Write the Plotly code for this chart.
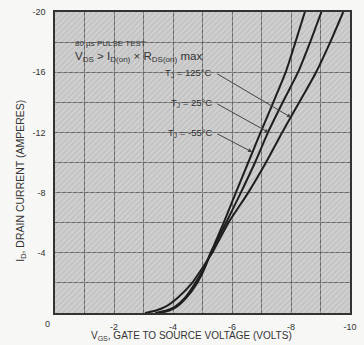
import plotly.graph_objects as go

# ---- data ----
id_levels = [0, -0.15, -0.4, -1.0, -2.0, -3.0, -4.0, -6.0, -8.0, -10.0, -12.0, -14.0, -16.0, -18.0, -20.0]
vgs_m55 = [-3.55, -3.85, -4.12, -4.45, -4.82, -5.08, -5.28, -5.72, -6.13, -6.55, -6.97, -7.40, -7.82, -8.15, -8.47]
vgs_25 = [-3.40, -3.75, -4.05, -4.40, -4.76, -5.05, -5.28, -5.80, -6.30, -6.78, -7.22, -7.72, -8.24, -8.65, -9.03]
vgs_125 = [-3.05, -3.40, -3.73, -4.15, -4.65, -5.00, -5.33, -5.88, -6.55, -7.15, -7.70, -8.28, -8.85, -9.33, -9.77]

curve_names = ["T<sub>J</sub> = -55\u00b0C", "T<sub>J</sub> = 25\u00b0C", "T<sub>J</sub> = 125\u00b0C"]

x_ticks = [-1, -2, -3, -4, -5, -6, -7, -8, -9, -10]
x_tick_text = ["", "-2", "", "-4", "", "-6", "", "-8", "", "-10"]
y_ticks = [-2, -4, -6, -8, -10, -12, -14, -16, -18, -20]
y_tick_text = ["", "-4", "", "-8", "", "-12", "", "-16", "", "-20"]

x_range = [0, -10]
y_range = [0, -20]

# label / arrow anchor points (data coords): label end, arrow tip
arrow_tail = [(-5.45, -11.96), (-5.45, -13.95), (-5.45, -15.95)]
arrow_tip = [(-6.68, -10.7), (-7.24, -12.0), (-8.0, -13.0)]

FONT = "Liberation Sans Narrow, Liberation Sans, Arial, sans-serif"
INK = "#333333"

fig = go.Figure()

# hatched background
fig.add_trace(go.Scatter(
    x=[x_range[0], x_range[1], x_range[1], x_range[0], x_range[0]],
    y=[y_range[0], y_range[0], y_range[1], y_range[1], y_range[0]],
    mode="lines", line=dict(width=0), fill="toself",
    fillcolor="rgba(0,0,0,0)",
    fillpattern=dict(shape="/", bgcolor="rgba(0,0,0,0)", fgcolor="rgba(238,238,238,0.8)",
                     size=4, solidity=0.35),
    hoverinfo="skip", showlegend=False))

for xs, nm in zip([vgs_m55, vgs_25, vgs_125], curve_names):
    fig.add_trace(go.Scatter(x=xs, y=id_levels, mode="lines", name=nm,
                             line=dict(color="#1e1e1e", width=2, shape="spline", smoothing=0.6),
                             showlegend=False))

annotations = []
for (tx, ty), (hx, hy), nm in zip(arrow_tail, arrow_tip, curve_names):
    annotations.append(dict(x=hx, y=hy, ax=tx, ay=ty, xref="x", yref="y", axref="x", ayref="y",
                            text="", showarrow=True, arrowhead=2, arrowsize=0.8, arrowwidth=1,
                            arrowcolor="#444444"))
    annotations.append(dict(x=tx + 0.05, y=ty, xref="x", yref="y", text=nm, showarrow=False,
                            xanchor="right", yanchor="middle",
                            font=dict(family=FONT, size=9.5, color=INK)))

annotations += [
    dict(x=0.06, y=0.895, xref="paper", yref="paper", text="80 \u00b5s PULSE TEST", showarrow=False,
         xanchor="left", yanchor="middle", font=dict(family=FONT, size=8, color=INK)),
    dict(x=0.06, y=0.85, xref="paper", yref="paper",
         text="V<sub>DS</sub> > I<sub>D(on)</sub> \u00d7 R<sub>DS(on)</sub> max", showarrow=False,
         xanchor="left", yanchor="middle", font=dict(family=FONT, size=11.5, color=INK)),
    dict(x=-0.027, y=-0.037, xref="paper", yref="paper", text="0", showarrow=False,
         xanchor="center", yanchor="middle", font=dict(family=FONT, size=9, color=INK)),
    dict(x=0.464, y=-0.076, xref="paper", yref="paper",
         text="V<sub>GS</sub>, GATE TO SOURCE VOLTAGE (VOLTS)", showarrow=False,
         xanchor="center", yanchor="middle", font=dict(family=FONT, size=10, color=INK)),
    dict(x=-0.118, y=0.44, xref="paper", yref="paper",
         text="I<sub>D</sub>, DRAIN CURRENT (AMPERES)", showarrow=False, textangle=-90,
         xanchor="center", yanchor="middle", font=dict(family=FONT, size=10.5, color=INK)),
]

fig.update_layout(
    width=364, height=345,
    margin=dict(l=55, r=7, t=12, b=32),
    paper_bgcolor="#f7f7f5", plot_bgcolor="#c4c4c4",
    font=dict(family=FONT, size=9, color=INK),
    annotations=annotations,
    xaxis=dict(range=x_range, tickvals=x_ticks, ticktext=x_tick_text, showgrid=True,
               gridcolor="#666666", gridwidth=1, zeroline=False, showline=True, mirror=True,
               linecolor="#333333", linewidth=1.5, ticks="", ticklabelstandoff=4,
               tickfont=dict(family=FONT, size=9, color=INK)),
    yaxis=dict(range=y_range, tickvals=y_ticks, ticktext=y_tick_text, showgrid=True,
               gridcolor="#666666", gridwidth=1, zeroline=False, showline=True, mirror=True,
               linecolor="#333333", linewidth=1.5, ticks="", ticklabelstandoff=6,
               tickfont=dict(family=FONT, size=9, color=INK)),
)

fig.write_html("out.html")
